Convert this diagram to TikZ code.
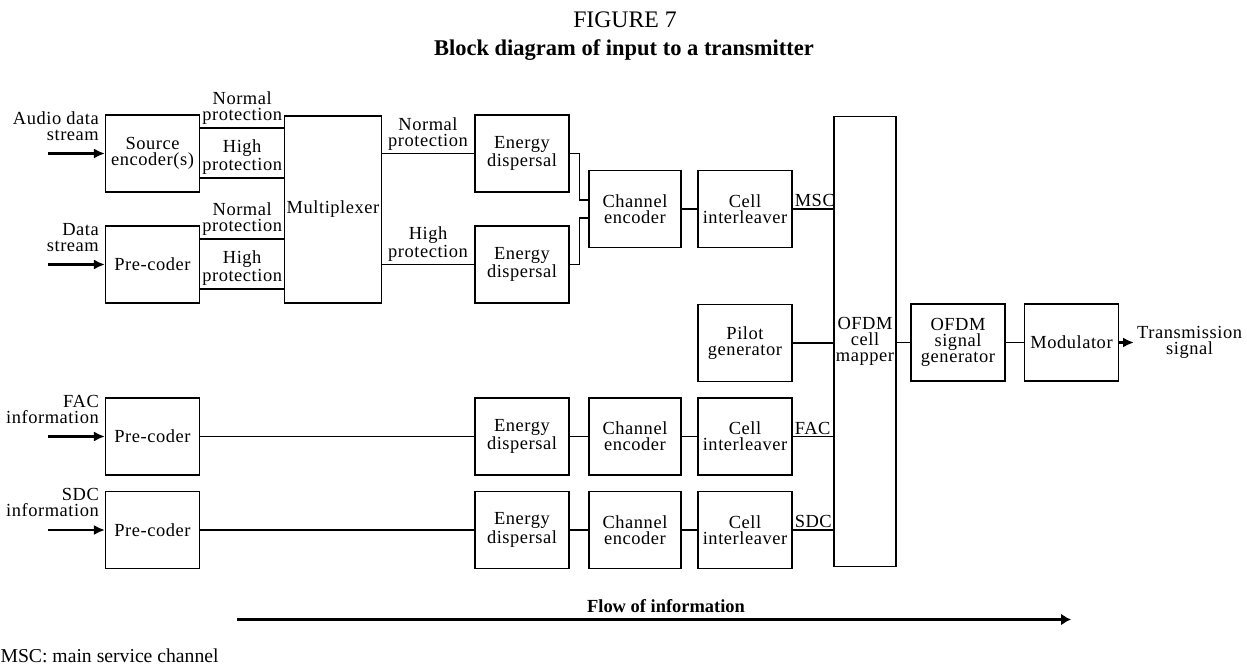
\documentclass[tikz,border=0pt]{standalone}
\usepackage{fontspec}
\setmainfont{Liberation Serif}
\newfontfamily\lblfont{Liberation Serif}[LetterSpace=3]
\usetikzlibrary{arrows.meta}

\begin{document}
\begin{tikzpicture}[x=0.02cm, y=-0.02cm, line width=0.6pt,
  font=\lblfont\fontsize{10.5}{9.2}\selectfont,
  blk/.style={draw, minimum width=1.88cm, minimum height=1.54cm, align=center, inner sep=1pt},
  lbl/.style={align=center, inner sep=1.5pt},
  inarr/.style={-{Latex[length=2.2mm,width=2mm]}, line width=1.4pt}]
\useasboundingbox (0,0) rectangle (1247,665);

% titel
\node (fig) at (625,20) {\rmfamily\fontsize{13.5}{14}\selectfont FIGURE 7};
\node (ttl) at (624,50) {\rmfamily\fontsize{12.8}{14}\selectfont\bfseries Block diagram of input to a transmitter};

% eingang: audio und daten
\node[blk] (src) at (152.5,153.5) {Source\\encoder(s)};
\node[blk] (pre1) at (152.5,264.5) {Pre-coder};
\node[blk, minimum height=3.74cm] (mux) at (333,209.5) {Multiplexer};

\coordinate (in1) at (48,153.5);
\coordinate (in2) at (48,264.5);
\draw[inarr] (in1) -- (src);
\draw[inarr] (in2) -- (pre1);
\node[lbl, align=right, anchor=south east] (inl1) at (102,144) {Audio data\\stream};
\node[lbl, align=right, anchor=south east] (inl2) at (102,255) {Data\\stream};

\draw (src.east |- 0,128) -- (mux.west |- 0,128) node[lbl, midway, above] (p1) {Normal\\protection};
\draw (src.east |- 0,178) -- (mux.west |- 0,178) node[lbl, midway, above] (p2) {High\\protection};
\draw (pre1.east |- 0,239) -- (mux.west |- 0,239) node[lbl, midway, above] (p3) {Normal\\protection};
\draw (pre1.east |- 0,289) -- (mux.west |- 0,289) node[lbl, midway, above] (p4) {High\\protection};

% MSC zweig
\node[blk] (ed1) at (522,153.5) {Energy\\dispersal};
\node[blk] (ed2) at (522,264.5) {Energy\\dispersal};
\node[blk, minimum width=1.84cm] (ce1) at (635,209) {Channel\\encoder};
\node[blk] (ci1) at (745,209) {Cell\\interleaver};

\draw (mux.east |- ed1) -- (ed1.west) node[lbl, midway, above] (p5) {Normal\\protection};
\draw (mux.east |- ed2) -- (ed2.west) node[lbl, midway, above] (p6) {High\\protection};
\draw (ed1.east) -- ++(10,0) |- ([yshift=0.18cm]ce1.west);
\draw (ed2.east) -- ++(10,0) |- ([yshift=-0.18cm]ce1.west);
\draw (ce1) -- (ci1);

% OFDM
\node[blk, minimum width=1.24cm, minimum height=9.02cm] (ofdm) at (865,341.5) {OFDM\\cell\\mapper};
\node[blk] (pil) at (745,343) {Pilot\\generator};
\node[blk] (sig) at (958,342.5) {OFDM\\signal\\generator};
\node[blk] (mod) at (1071.5,342.5) {Modulator};

\draw (ci1.east) -- (ci1 -| ofdm.west);
\node[lbl, anchor=south west, inner sep=1pt] (msc) at (ci1.east) {MSC};
\draw (pil) -- (pil -| ofdm.west);
\draw (sig -| ofdm.east) -- (sig);
\draw (sig) -- (mod);
\coordinate (out) at (1134,342.5);
\draw[inarr] (mod) -- (out);
\node[lbl, anchor=west] (txs) at (out) {Transmission\\signal};

% FAC zeile
\node[blk] (pre2) at (152.5,436.5) {Pre-coder};
\node[blk] (ed3) at (522,436.5) {Energy\\dispersal};
\node[blk, minimum width=1.84cm] (ce2) at (635,436.5) {Channel\\encoder};
\node[blk] (ci2) at (745,436.5) {Cell\\interleaver};
\coordinate (in3) at (48,436.5);
\draw[inarr] (in3) -- (pre2);
\node[lbl, align=right, anchor=south east] (inl3) at (102,427) {FAC\\information};
\draw (pre2) -- (ed3);
\draw (ed3) -- (ce2);
\draw (ce2) -- (ci2);
\draw (ci2) -- (ci2 -| ofdm.west);
\node[lbl, anchor=south west, inner sep=1pt] (fac) at (ci2.east) {FAC};

% SDC zeile
\node[blk] (pre3) at (152.5,530) {Pre-coder};
\node[blk] (ed4) at (522,530) {Energy\\dispersal};
\node[blk, minimum width=1.84cm] (ce3) at (635,530) {Channel\\encoder};
\node[blk] (ci3) at (745,530) {Cell\\interleaver};
\coordinate (in4) at (48,530);
\draw[inarr] (in4) -- (pre3);
\node[lbl, align=right, anchor=south east] (inl4) at (102,520) {SDC\\information};
\draw (pre3) -- (ed4);
\draw (ed4) -- (ce3);
\draw (ce3) -- (ci3);
\draw (ci3) -- (ci3 -| ofdm.west);
\node[lbl, anchor=south west, inner sep=1pt] (sdc) at (ci3.east) {SDC};

% informationsfluss
\coordinate (fl1) at (237,619.5);
\coordinate (fl2) at (1071,619.5);
\draw[-{Latex[length=2mm,width=2.4mm]}, line width=1.8pt] (fl1) -- (fl2);
\node[anchor=base] (flw) at (666,612) {\rmfamily\fontsize{10.5}{12}\selectfont\bfseries Flow of information};

\node[anchor=base west, inner sep=0pt] (note) at (0,662) {\rmfamily\fontsize{11.2}{12}\selectfont MSC: main service channel};
\end{tikzpicture}
\end{document}
